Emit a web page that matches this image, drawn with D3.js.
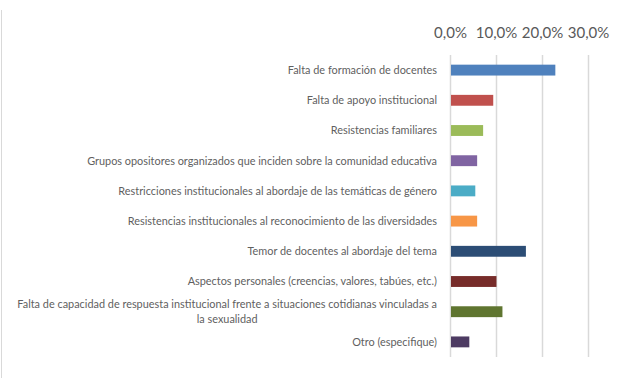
<!DOCTYPE html>
<html>
<head>
<meta charset="utf-8">
<script src="https://cdn.jsdelivr.net/npm/d3@7"></script>
<style>
  body { margin: 0; background: #fff; }
  svg { display: block; font-family: Lato, "Open Sans", sans-serif; }
</style>
</head>
<body>
<div id="chart"></div>
<script>
// categories, top to bottom
var categories = [
    "Falta de formación de docentes",
    "Falta de apoyo institucional",
    "Resistencias familiares",
    "Grupos opositores organizados que inciden sobre la comunidad educativa",
    "Restricciones institucionales al abordaje de las temáticas de género",
    "Resistencias institucionales al reconocimiento de las diversidades",
    "Temor de docentes al abordaje del tema",
    "Aspectos personales (creencias, valores, tabúes, etc.)",
    "Falta de capacidad de respuesta institucional frente a situaciones cotidianas vinculadas a la sexualidad",
    "Otro (especifique)"
];
var values = [0.229, 0.094, 0.072, 0.059, 0.055, 0.059, 0.165, 0.101, 0.114, 0.042];
var colors = ["#4f81bd", "#c0504d", "#9bbb59", "#8064a2", "#4bacc6",
              "#f79646", "#2c4d75", "#772c2a", "#5f7530", "#4d3b62"];
var ticks = [0, 0.1, 0.2, 0.3];

var width = 634, height = 378;
var margin = {top: 55, right: 46, bottom: 21, left: 450};

var svg = d3.select("#chart").append("svg")
    .attr("width", width)
    .attr("height", height);

// outer frame line on the left
svg.append("line")
    .attr("x1", 1.5).attr("x2", 1.5)
    .attr("y1", 10).attr("y2", height)
    .attr("stroke", "#d9d9d9");

var x = d3.scaleLinear()
    .domain([0, 0.3])
    .range([margin.left, width - margin.right]);

var y = d3.scaleBand()
    .domain(categories)
    .range([margin.top, height - margin.bottom])
    .paddingInner(0.64)
    .paddingOuter(0.32);

var fmt = function(d) { return d3.format(".1%")(d).replace(".", ","); };

// gridlines + labels on top
var xAxis = svg.append("g")
    .attr("transform", "translate(0," + margin.top + ")")
    .call(d3.axisTop(x).tickValues(ticks).tickFormat(fmt)
        .tickSize(-(height - margin.top - margin.bottom)).tickPadding(17));
xAxis.select(".domain").remove();
xAxis.selectAll("line").attr("stroke", "#d9d9d9").attr("stroke-width", 1.5);
xAxis.selectAll("text")
    .attr("fill", "#595959")
    .style("font-size", "15px")
    .style("font-family", "Lato, sans-serif");

// bars
svg.selectAll("rect.bar")
    .data(values)
    .enter().append("rect")
    .attr("class", "bar")
    .attr("x", x(0) + 1)
    .attr("y", function(d, i) { return y(categories[i]); })
    .attr("width", function(d) { return x(d) - x(0) - 1; })
    .attr("height", y.bandwidth())
    .attr("fill", function(d, i) { return colors[i]; });

// category labels, wrapped when too long
var maxW = 428;
var labels = svg.selectAll("text.cat")
    .data(categories)
    .enter().append("text")
    .attr("class", "cat")
    .attr("fill", "#5f5f5f")
    .style("font-size", "10.9px")
    .attr("text-anchor", "middle");

labels.each(function(d) {
    var t = d3.select(this);
    var words = d.split(" ");
    var lines = [], line = [];
    var probe = t.append("tspan");
    words.forEach(function(w) {
        line.push(w);
        probe.text(line.join(" "));
        if (probe.node().getComputedTextLength() > maxW && line.length > 1) {
            line.pop();
            lines.push(line.join(" "));
            line = [w];
        }
    });
    lines.push(line.join(" "));
    probe.remove();

    var widest = 0;
    lines.forEach(function(l) {
        var s = t.append("tspan").text(l);
        widest = Math.max(widest, s.node().getComputedTextLength());
        s.remove();
    });
    var right = x(0) - 13;
    var cx = right - widest / 2;
    var cy = y(d) + y.bandwidth() / 2;
    var lh = 15;
    lines.forEach(function(l, k) {
        t.append("tspan")
            .attr("x", cx)
            .attr("y", cy + (k - (lines.length - 1) / 2) * lh)
            .attr("dy", "0.35em")
            .text(l);
    });
});
</script>
</body>
</html>
